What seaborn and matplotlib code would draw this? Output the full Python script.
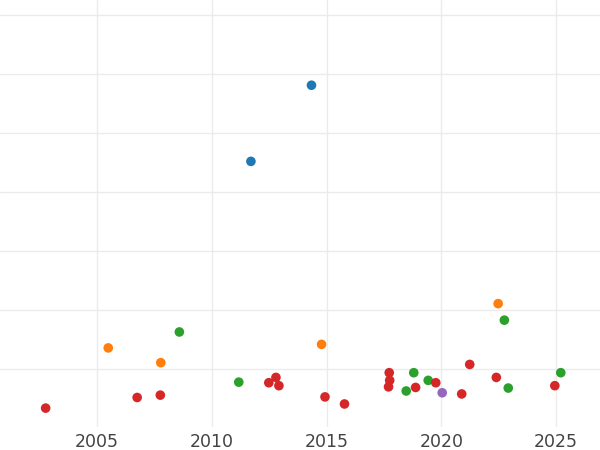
import numpy as np
import pandas as pd
import matplotlib
matplotlib.use("Agg")
import matplotlib.pyplot as plt
import seaborn as sns

# ============================
# DATA
# ============================
year = [2014.34, 2011.70,
        2022.48, 2005.48, 2014.78, 2007.77,
        2022.75, 2008.58, 2018.80, 2025.21, 2011.17, 2019.43, 2022.92, 2018.47,
        2021.24, 2017.73, 2017.75, 2012.79, 2022.40, 2012.48, 2019.76, 2012.92,
        2017.70, 2024.95, 2018.88, 2020.89, 2007.75, 2006.74, 2014.93, 2015.78,
        2002.75,
        2020.04]
value = [5.81, 4.52,
         2.11, 1.36, 1.42, 1.11,
         1.83, 1.63, 0.94, 0.94, 0.78, 0.81, 0.68, 0.63,
         1.08, 0.94, 0.81, 0.86, 0.86, 0.77, 0.77, 0.72,
         0.70, 0.72, 0.69, 0.58, 0.56, 0.52, 0.53, 0.41,
         0.34,
         0.60]
group = (["A"] * 2 + ["B"] * 4 + ["C"] * 8 + ["D"] * 17 + ["E"] * 1)

df = pd.DataFrame({"year": year, "value": value, "group": group})

palette = {"A": "#1f77b4", "B": "#ff7f0e", "C": "#2ca02c",
           "D": "#d62728", "E": "#9467bd"}

# ============================
# PLOT
# ============================
sns.set_style("whitegrid", {"grid.color": "#ebebeb", "axes.edgecolor": "white"})

fig = plt.figure(figsize=(6, 4.5), dpi=100)
ax = fig.add_axes([0, 23 / 450, 1, 427 / 450])

sns.scatterplot(data=df, x="year", y="value", hue="group", palette=palette,
                s=48, linewidth=0, legend=False, ax=ax)

ax.set_xlim(2000.76, 2026.92)
ax.set_ylim(0.02, 7.254)
ax.set_xticks([2005, 2010, 2015, 2020, 2025])
ax.set_yticks([1, 2, 3, 4, 5, 6, 7])
ax.set_yticklabels([])
ax.tick_params(axis="both", length=0, pad=4.5, labelsize=12.5, labelcolor="#444444")
ax.grid(True, linewidth=1)
ax.set_xlabel("")
ax.set_ylabel("")
for s in ax.spines.values():
    s.set_visible(False)

fig.savefig("out.png", dpi=100)
